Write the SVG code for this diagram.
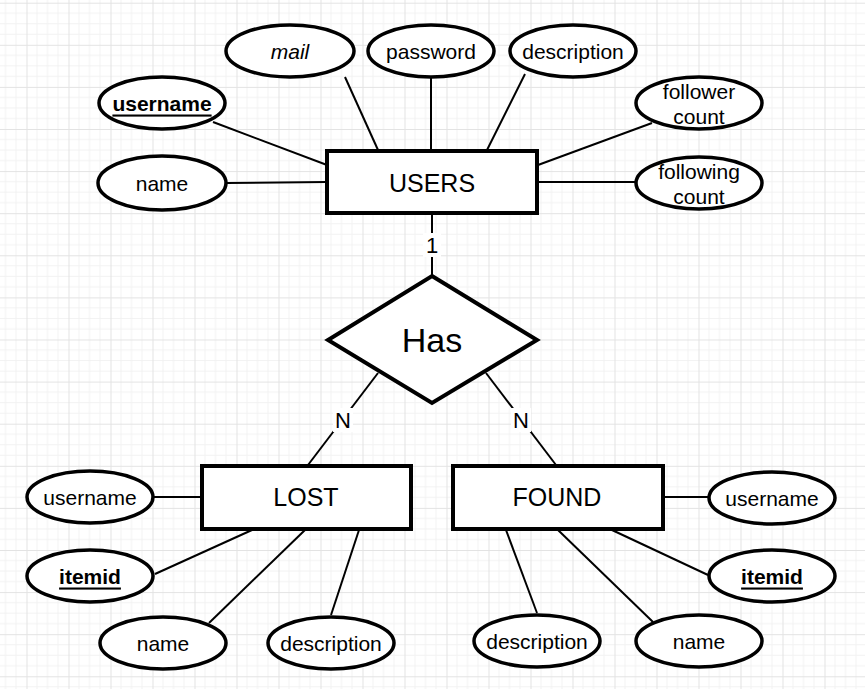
<svg xmlns="http://www.w3.org/2000/svg" width="865" height="689" viewBox="0 0 865 689">
<defs>
<pattern id="grid" patternUnits="userSpaceOnUse" x="26.5" y="2.7" width="42" height="42.1">
<path d="M10.5 0V42.1M21 0V42.1M31.5 0V42.1M0 10.5H42M0 21H42M0 31.6H42" stroke="#f2f2f2" stroke-width="1" fill="none"/>
<path d="M0.5 0V42.1M0 0.5H42" stroke="#e3e3e3" stroke-width="1" fill="none"/>
</pattern>
<style>
.ent{fill:#fff;stroke:#000;stroke-width:4}
.att{fill:#fff;stroke:#000;stroke-width:3.5}
.rel{fill:#fff;stroke:#000;stroke-width:4;stroke-linejoin:miter}
.con line{stroke:#000;stroke-width:2}
text{font-family:"Liberation Sans",Arial,sans-serif;fill:#000;text-anchor:middle;dominant-baseline:central}
.et{font-size:25px}
.at{font-size:21px}
.key{font-size:21px;font-weight:bold;text-decoration:underline}
.lbl{font-size:22px}
</style>
</defs>
<rect width="865" height="689" fill="#fff"/>
<rect width="865" height="689" fill="url(#grid)"/>
<g class="con">
<line x1="345" y1="77" x2="378" y2="150"/>
<line x1="431" y1="77" x2="431" y2="150"/>
<line x1="525" y1="74" x2="487" y2="150"/>
<line x1="213" y1="122" x2="327" y2="165"/>
<line x1="227" y1="183" x2="327" y2="182"/>
<line x1="652" y1="123" x2="538" y2="165"/>
<line x1="538" y1="182" x2="635" y2="182"/>
<line x1="432" y1="213" x2="432" y2="276"/>
<line x1="378" y1="373" x2="308" y2="465"/>
<line x1="486" y1="373" x2="556" y2="465"/>
<line x1="154" y1="497" x2="202" y2="497"/>
<line x1="155" y1="574" x2="252" y2="530"/>
<line x1="209" y1="623" x2="305" y2="530"/>
<line x1="331" y1="615" x2="359" y2="530"/>
<line x1="664" y1="497" x2="708" y2="497"/>
<line x1="612" y1="530" x2="708" y2="575"/>
<line x1="558" y1="530" x2="653" y2="622"/>
<line x1="506" y1="530" x2="537" y2="613"/>
<rect x="423" y="233" width="18" height="24" fill="#fff"/>
<text class="lbl" x="432" y="245">1</text>
<rect x="333" y="408" width="20" height="24" fill="#fff"/>
<text class="lbl" x="343" y="420">N</text>
<rect x="511" y="408" width="20" height="24" fill="#fff"/>
<text class="lbl" x="521" y="420">N</text>
</g>
<g id="users"><rect class="ent" x="327" y="151" width="210" height="62"/><text class="et" x="432" y="183">USERS</text></g>
<g id="has"><polygon class="rel" points="432,276 537,340 432,403 328,340"/><text x="432" y="340" font-size="34">Has</text></g>
<g id="lost"><rect class="ent" x="202" y="466" width="209" height="63"/><text class="et" x="306" y="497">LOST</text></g>
<g id="found"><rect class="ent" x="453" y="466" width="210" height="63"/><text class="et" x="557" y="497">FOUND</text></g>
<g id="u-mail"><ellipse class="att" cx="290" cy="51" rx="64" ry="26"/><text class="at" x="290" y="51" font-style="italic">mail</text></g>
<g id="u-password"><ellipse class="att" cx="431" cy="51" rx="63" ry="26"/><text class="at" x="431" y="51">password</text></g>
<g id="u-description"><ellipse class="att" cx="573" cy="51" rx="63" ry="26"/><text class="at" x="573" y="51">description</text></g>
<g id="u-username"><ellipse class="att" cx="162" cy="103" rx="63" ry="26"/><text class="key" x="162" y="103">username</text></g>
<g id="u-name"><ellipse class="att" cx="162" cy="183" rx="64" ry="27"/><text class="at" x="162" y="183">name</text></g>
<g id="u-follower"><ellipse class="att" cx="699" cy="103" rx="63" ry="26"/><text class="at" x="699" y="91">follower</text><text class="at" x="699" y="116">count</text></g>
<g id="u-following"><ellipse class="att" cx="699" cy="183" rx="63" ry="26"/><text class="at" x="699" y="171">following</text><text class="at" x="699" y="196">count</text></g>
<g id="l-username"><ellipse class="att" cx="90" cy="497" rx="63" ry="26"/><text class="at" x="90" y="497">username</text></g>
<g id="l-itemid"><ellipse class="att" cx="90" cy="576" rx="63" ry="26"/><text class="key" x="90" y="576">itemid</text></g>
<g id="l-name"><ellipse class="att" cx="163" cy="643" rx="63" ry="26"/><text class="at" x="163" y="643">name</text></g>
<g id="l-description"><ellipse class="att" cx="331" cy="643" rx="63" ry="26"/><text class="at" x="331" y="643">description</text></g>
<g id="f-username"><ellipse class="att" cx="772" cy="498" rx="63" ry="26"/><text class="at" x="772" y="498">username</text></g>
<g id="f-itemid"><ellipse class="att" cx="772" cy="576" rx="63" ry="26"/><text class="key" x="772" y="576">itemid</text></g>
<g id="f-description"><ellipse class="att" cx="537" cy="641" rx="63" ry="26"/><text class="at" x="537" y="641">description</text></g>
<g id="f-name"><ellipse class="att" cx="699" cy="641" rx="63" ry="26"/><text class="at" x="699" y="641">name</text></g>
</svg>
